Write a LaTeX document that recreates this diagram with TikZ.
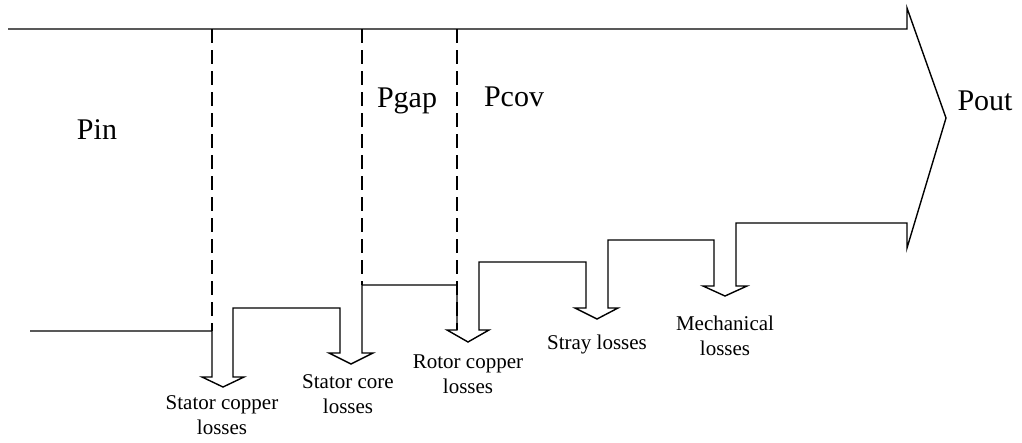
\documentclass[tikz,border=0pt]{standalone}
\usepackage{fontspec}
\setmainfont{Liberation Serif}
\usetikzlibrary{positioning}

\begin{document}
\begin{tikzpicture}[
  x=1pt,y=-1pt,
  flow/.style={line width=1.4pt,line join=miter},
  cut/.style={line width=1.6pt,dash pattern=on 14pt off 7pt},
  power/.style={font=\fontsize{30}{36}\selectfont,inner sep=0pt},
  loss/.style={font=\fontsize{21}{25}\selectfont,align=center,inner sep=0pt}
]
\useasboundingbox (0,0) rectangle (1022,442);

% power flow band with the loss branches
\draw[flow] (30,331) -- (212,331) -- (212,377) -- (202,377) -- (223,387) -- (244,377)
  -- (233,377) -- (233,308) -- (340,308) -- (340,353) -- (329,353) -- (351,364)
  -- (373,353) -- (362,353) -- (362,285) -- (457,285) -- (457,330) -- (447,330)
  -- (468,342) -- (489,330) -- (479,330) -- (479,262) -- (586,262) -- (586,308)
  -- (575,308) -- (597,319) -- (618,308) -- (608,308) -- (608,240) -- (714,240)
  -- (714,286) -- (703,286) -- (725,296) -- (747,286) -- (736,286) -- (736,223)
  -- (907,223) -- (907,248) -- (946,118) -- (907,8) -- (907,29) -- (8,29);

% section cuts
\draw[cut] (212,29) -- (212,331);
\draw[cut] (362,29) -- (362,285);
\draw[cut] (457,29) -- (457,330);

\node[power] (pin) at (97,130) {Pin};
\node[power] (pgap) at (407,101) {Pgap};
\node[power] (pcov) at (514,97) {Pcov};
\node[power] (pout) at (985,101) {Pout};

\node[loss] (scu) at (222,415) {Stator copper\\losses};
\node[loss] (sfe) at (348,394) {Stator core\\losses};
\node[loss] (rcu) at (468,374) {Rotor copper\\losses};
\node[loss] (stray) at (597,344) {Stray losses};
\node[loss] (mech) at (725,336) {Mechanical\\losses};
\end{tikzpicture}
\end{document}
